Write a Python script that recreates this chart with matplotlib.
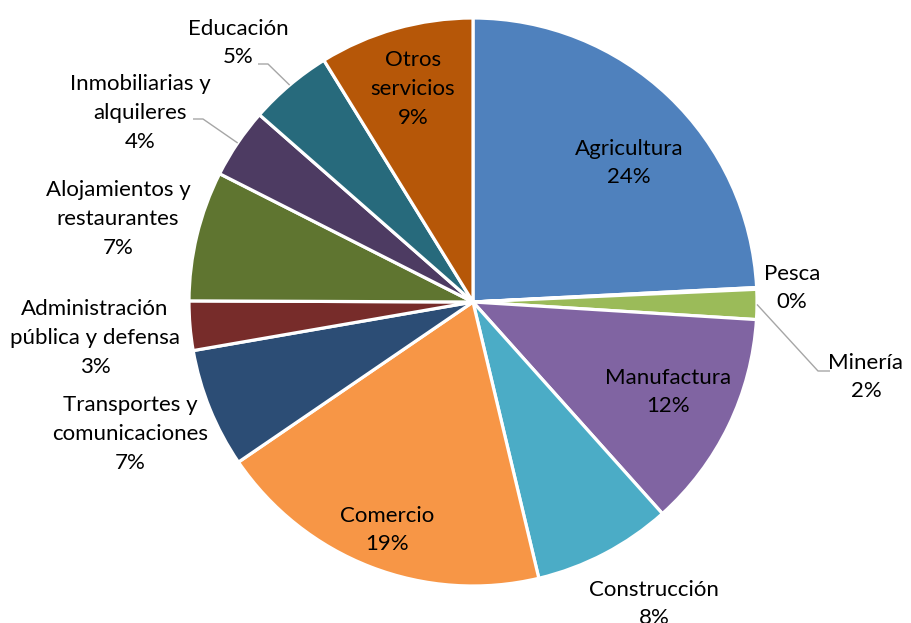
import matplotlib
matplotlib.use("Agg")
import matplotlib.pyplot as plt
import numpy as np

categories = ["Agricultura", "Pesca", "Minería", "Manufactura", "Construcción",
              "Comercio", "Transportes y\ncomunicaciones", "Administración\npública y defensa",
              "Alojamientos y\nrestaurantes", "Inmobiliarias y\nalquileres", "Educación",
              "Otros\nservicios"]
values = [24.2, 0.1, 1.7, 12.4, 7.9, 19.2, 6.8, 2.8, 7.4, 4.0, 4.75, 8.8]
colors = ["#4F81BD", "#C0504D", "#9BBB59", "#8064A2", "#4BACC6", "#F79646",
          "#2C4D75", "#772C2A", "#5F7530", "#4D3B62", "#276A7C", "#B65708"]

W, H = 911, 623
plt.rcParams['font.family'] = ['Lato', 'DejaVu Sans']

fig = plt.figure(figsize=(W / 100, H / 100), dpi=100)
ax = fig.add_axes([0, 0, 1, 1])

cx, cy, R = 473, 302, 284  # pixel coords, top origin
def Y(y):
    return H - y

wedges, _ = ax.pie(values, startangle=90, counterclock=False, colors=colors,
                   center=(cx, Y(cy)), radius=R,
                   wedgeprops=dict(edgecolor="white", linewidth=2.3))
ax.set_xlim(0, W)
ax.set_ylim(0, H)
ax.set_aspect("equal")
ax.axis("off")

total = sum(values)
pct = [f"{round(v / total * 100)}%" for v in values]

# label layout (pixel coords, top origin)
label_pos = {
    "Agricultura": (629, 163),
    "Pesca": (792, 288),
    "Minería": (866, 377),
    "Manufactura": (668, 392),
    "Construcción": (654, 604),
    "Comercio": (387, 530),
    "Transportes y\ncomunicaciones": (130, 434),
    "Administración\npública y defensa": (95, 338),
    "Alojamientos y\nrestaurantes": (118, 219),
    "Inmobiliarias y\nalquileres": (140, 113),
    "Educación": (238, 43),
    "Otros\nservicios": (413, 89),
}
leaders = {
    "Educación": [(290, None), (268, 64), (258, 64)],
    "Inmobiliarias y\nalquileres": [(237, None), (203, 119), (193, 119)],
    "Minería": [(757, None), (818, 371), (830, 371)],
}

for w, cat, p in zip(wedges, categories, pct):
    x, y = label_pos[cat]
    ax.text(x, Y(y), f"{cat}\n{p}", ha="center", va="center", fontsize=16,
            color="#000000", linespacing=1.55, multialignment="center")
    if cat in leaders:
        mid = np.deg2rad((w.theta1 + w.theta2) / 2)
        ex = w.center[0] + w.r * np.cos(mid)
        ey = w.center[1] + w.r * np.sin(mid)
        pts = [(ex, ey)] + [(px, Y(py)) for px, py in leaders[cat][1:]]
        xs, ys = zip(*pts)
        ax.plot(xs, ys, color="#A6A6A6", lw=1.0, solid_capstyle="butt")

fig.savefig("out.png", dpi=100)
